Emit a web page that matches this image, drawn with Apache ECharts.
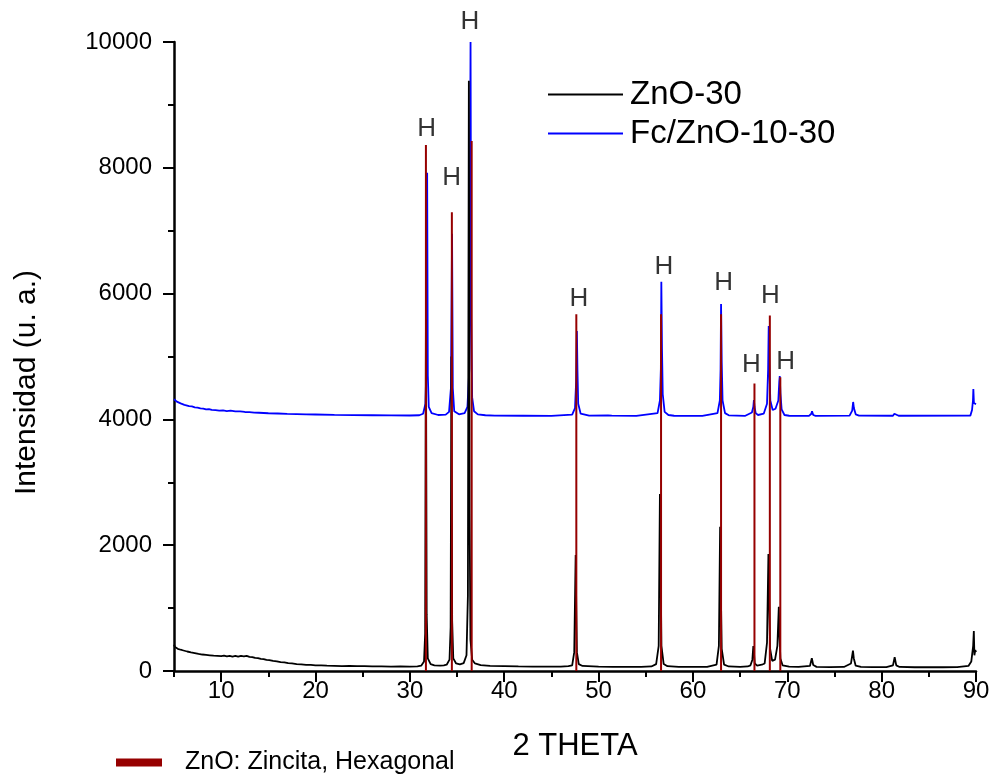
<!DOCTYPE html>
<html>
<head>
<meta charset="utf-8">
<script src="https://cdn.jsdelivr.net/npm/echarts@6/dist/echarts.min.js"></script>
<style>
html,body{margin:0;padding:0;background:#fff;}
#chart{width:993px;height:774px;}
</style>
</head>
<body>
<div id="chart"></div>
<script>
// ---- Data ----
const xTicks = [10, 20, 30, 40, 50, 60, 70, 80, 90];
const yTicks = [0, 2000, 4000, 6000, 8000, 10000];

// ZnO-30 (black) : [2theta, intensity]
const zno30 = [
  [5.0,420],[5.1,380],[5.25,372],[5.4,352],[5.55,356],[5.7,338],[5.85,342],[6.0,326],[6.2,330],[6.4,310],
  [6.6,314],[6.8,296],[7.0,300],[7.2,284],[7.4,288],[7.6,272],[7.8,276],[8.0,262],[8.2,268],[8.4,256],
  [8.6,262],[8.8,250],[9.0,256],[9.2,244],[9.4,250],[9.6,240],[9.8,248],[10.0,236],[10.3,244],[10.6,232],
  [10.9,242],[11.2,230],[11.5,240],[11.8,228],[12.1,240],[12.4,232],[12.7,242],[13.0,226],[13.3,222],[13.6,208],
  [13.9,204],[14.2,192],[14.5,190],[14.8,176],[15.1,174],[15.5,160],[15.9,152],[16.3,140],[16.7,136],[17.1,124],
  [17.5,120],[18.0,110],[18.5,106],[19.0,98],[19.5,96],[20.0,90],[20.6,88],[21.2,84],[22.0,82],[22.8,79],
  [23.6,80],[24.4,76],[25.2,77],[26.0,73],[27.0,74],[28.0,71],[29.0,73],[30.0,71],[30.8,75],
  [31.2,85],[31.5,150],[31.62,600],[31.7,5600],[31.78,900],[31.9,200],[32.2,110],[32.6,90],[33.2,84],[33.6,90],
  [33.9,100],[34.2,180],[34.32,700],[34.4,5000],[34.48,800],[34.6,200],[34.9,120],[35.3,105],
  [35.7,125],[36.0,250],[36.15,1200],[36.25,9385],[36.33,2500],[36.42,500],[36.6,180],[36.9,120],[37.5,92],[38.5,80],
  [40.0,76],[41.5,72],[43.0,71],[44.5,69],[46.0,70],[46.8,78],
  [47.2,90],[47.42,300],[47.57,1844],[47.63,1050],[47.7,300],[47.9,110],[48.3,80],
  [50.0,68],[51.5,67],[53.0,65],[54.5,66],[55.6,72],
  [56.1,110],[56.37,400],[56.5,2814],[56.58,1563],[56.66,400],[56.9,110],[57.3,76],
  [58.5,66],[60.0,64],[61.5,66],
  [62.5,100],[62.75,400],[62.88,2294],[62.96,1240],[63.05,350],[63.3,100],[63.8,72],
  [65.0,66],[65.8,72],
  [66.1,90],[66.3,180],[66.4,397],[66.47,286],[66.55,120],[66.8,85],[67.3,100],
  [67.6,120],[67.85,450],[68.0,1860],[68.08,1100],[68.18,350],[68.4,160],[68.7,180],[68.95,400],[69.1,1022],
  [69.17,572],[69.27,200],[69.5,90],[70.2,68],[71.2,64],
  [72.4,80],[72.6,202],[72.75,95],[73.1,66],[74.5,62],[76.0,64],
  [76.75,120],[76.96,323],[77.05,200],[77.25,85],[77.8,64],[79.0,62],[80.5,61],
  [81.2,90],[81.38,218],[81.55,90],[81.9,64],[83.5,60],[85.0,61],[86.5,60],[88.0,62],[89.2,80],
  [89.5,150],[89.7,400],[89.77,636],[89.83,250],[89.92,334],[90.0,300]
];

// Fc/ZnO-10-30 (blue) : [2theta, intensity]
const fcZno = [
  [5.0,4320],[5.15,4300],[5.3,4282],[5.5,4270],[5.7,4254],[5.9,4246],[6.1,4232],[6.3,4230],[6.6,4212],[6.9,4206],
  [7.2,4192],[7.5,4188],[7.8,4174],[8.1,4172],[8.4,4160],[8.7,4162],[9.0,4150],[9.4,4148],[9.8,4140],[10.2,4142],
  [10.6,4132],[11.0,4138],[11.5,4128],[12.0,4126],[12.5,4118],[13.0,4116],[13.5,4108],[14.0,4106],[15.0,4098],[16.0,4094],
  [17.0,4088],[18.0,4085],[19.0,4080],[20.0,4078],[22.0,4072],[24.0,4068],[26.0,4066],[28.0,4064],[30.0,4062],[31.0,4066],
  [31.4,4090],[31.65,4250],[31.76,4900],[31.83,7922],[31.9,4700],[32.0,4200],[32.3,4100],[33.0,4070],[33.8,4076],
  [34.15,4120],[34.35,4500],[34.47,6950],[34.55,4500],[34.7,4130],[35.2,4080],[35.8,4100],
  [36.1,4200],[36.3,4800],[36.43,10000],[36.5,5600],[36.6,4350],[36.8,4130],[37.2,4080],[38.0,4066],
  [39.0,4060],[42.0,4058],[45.0,4055],[47.2,4075],[47.5,4180],[47.62,4600],[47.7,5405],[47.76,4785],[47.84,4250],[48.1,4090],
  [49.0,4060],[51.0,4062],[51.2,4080],[51.4,4060],[54.0,4055],[56.25,4100],[56.5,4300],[56.6,4800],[56.65,6190],[56.72,5120],
  [56.8,4400],[57.0,4120],[57.4,4070],[58.0,4058],[61.0,4055],[62.6,4100],[62.85,4300],[62.93,4800],[62.98,5835],[63.05,4910],
  [63.14,4300],[63.4,4100],[63.8,4065],[65.5,4055],[66.25,4110],[66.4,4200],[66.46,4308],[66.53,4197],[66.65,4100],[66.9,4070],
  [67.5,4090],[67.85,4250],[67.97,4800],[68.03,5485],[68.1,4880],[68.2,4300],[68.45,4150],[68.75,4170],[69.05,4300],[69.15,4600],
  [69.2,4690],[69.27,4420],[69.4,4160],[69.7,4070],[70.2,4058],[72.3,4055],[72.55,4090],[72.62,4130],[72.75,4070],[73.0,4056],
  [76.6,4060],[76.88,4140],[76.98,4277],[77.06,4180],[77.25,4080],[77.6,4060],[81.2,4058],[81.35,4090],[81.42,4120],[81.55,4070],
  [81.8,4058],[89.4,4060],[89.58,4150],[89.68,4300],[89.72,4483],[89.78,4260],[89.88,4250],[90.0,4240]
];

// ZnO: Zincita, Hexagonal reference sticks
const refPos    = [31.70, 34.45, 36.55, 47.64, 56.62, 62.98, 66.52, 68.15, 69.26];
const refHeight = [8362, 7293, 8426, 5670, 5670, 5670, 4570, 5650, 4670];

// "H" annotation anchors (label centres)
const hX = [31.77, 34.42, 36.36, 47.90, 56.91, 63.26, 66.20, 68.21, 69.83];
const hY = [8612, 7843, 10323, 5909, 6428, 6164, 4865, 5967, 4917];

const seriesNames = ['ZnO-30', 'Fc/ZnO-10-30'];
const refName = 'ZnO: Zincita, Hexagonal';

// ---- Chart ----
const W = 993;
const gridLeft = 174, gridRight = 17, gridTop = 42, gridBottom = 103;
const plotW = W - gridLeft - gridRight;
const xMin = 5, xMax = 90;
const grid2Left = gridLeft + (xTicks[0] - xMin) / (xMax - xMin) * plotW;
const FONT = '"Liberation Sans", Arial, sans-serif';

const chart = echarts.init(document.getElementById('chart'), null, {renderer: 'canvas'});

const refData = refPos.map((p, i) => [p, refHeight[i]]);
const hData = hX.map((x, i) => [x, hY[i]]);

chart.setOption({
  animation: false,
  backgroundColor: '#ffffff',
  textStyle: {fontFamily: FONT, color: '#000'},
  grid: [
    {left: gridLeft, right: gridRight, top: gridTop, bottom: gridBottom, containLabel: false},
    {left: grid2Left, right: gridRight, top: gridTop, bottom: gridBottom, containLabel: false}
  ],
  legend: [
    {
      data: seriesNames,
      orient: 'vertical',
      left: 543, top: 73,
      itemWidth: 75, itemHeight: 2, itemGap: 6,
      icon: 'rect',
      textStyle: {fontSize: 33, fontFamily: FONT, color: '#000',
        rich: {t: {fontSize: 33, fontFamily: FONT, color: '#000', padding: [0, 0, 0, 2]}}},
      formatter: '{t|{name}}'
    },
    {
      data: [refName],
      orient: 'horizontal',
      left: 111, top: 745,
      itemWidth: 46, itemHeight: 8,
      icon: 'rect',
      textStyle: {fontSize: 25, fontFamily: FONT, color: '#000',
        rich: {t: {fontSize: 25, fontFamily: FONT, color: '#000', padding: [0, 0, 0, 18]}}},
      formatter: '{t|{name}}'
    }
  ],
  xAxis: [
    {
      gridIndex: 0, type: 'value', min: xMin, max: xMax, interval: xMax - xMin,
      name: '2 THETA', nameLocation: 'middle', nameGap: 60,
      nameTextStyle: {fontSize: 31, fontFamily: FONT, color: '#000'},
      axisLine: {show: true, onZero: false, lineStyle: {color: '#000', width: 2.5}},
      axisTick: {show: true, inside: false, length: 6, lineStyle: {color: '#000', width: 2}},
      axisLabel: {show: false},
      splitLine: {show: false}
    },
    {
      gridIndex: 1, type: 'value', min: xTicks[0], max: xTicks[xTicks.length - 1], interval: 10,
      axisLine: {show: false, onZero: false},
      axisTick: {show: true, inside: false, length: 11, lineStyle: {color: '#000', width: 2}},
      minorTick: {show: true, splitNumber: 2, length: 6, lineStyle: {color: '#000', width: 2}},
      axisLabel: {show: true, fontSize: 24, fontFamily: FONT, color: '#000', margin: 8,
        formatter: v => (xTicks.indexOf(v) >= 0 ? String(v) : '')},
      splitLine: {show: false}, minorSplitLine: {show: false}
    }
  ],
  yAxis: [
    {
      gridIndex: 0, type: 'value', min: 0, max: 10000, interval: 2000,
      name: 'Intensidad (u. a.)', nameLocation: 'middle', nameGap: 132, nameRotate: 90,
      nameTextStyle: {fontSize: 30, fontFamily: FONT, color: '#000', padding: [0, 52, 0, 0]},
      axisLine: {show: true, onZero: false, lineStyle: {color: '#000', width: 2.5}},
      axisTick: {show: true, inside: false, length: 11, lineStyle: {color: '#000', width: 2}},
      minorTick: {show: true, splitNumber: 2, length: 6, lineStyle: {color: '#000', width: 2}},
      axisLabel: {show: true, fontSize: 24, fontFamily: FONT, color: '#000', margin: 22,
        formatter: v => (yTicks.indexOf(v) >= 0 ? String(v) : '')},
      splitLine: {show: false}, minorSplitLine: {show: false}
    },
    {
      gridIndex: 1, type: 'value', min: 0, max: 10000, show: false,
      splitLine: {show: false}
    }
  ],
  series: [
    {
      name: seriesNames[0], type: 'line', xAxisIndex: 0, yAxisIndex: 0,
      data: zno30, showSymbol: false, symbol: 'none', smooth: false,
      color: '#000000',
      lineStyle: {color: '#000000', width: 1.8}, z: 3
    },
    {
      name: seriesNames[1], type: 'line', xAxisIndex: 0, yAxisIndex: 0,
      data: fcZno, showSymbol: false, symbol: 'none', smooth: false,
      color: '#0000ff',
      lineStyle: {color: '#0000ff', width: 1.8}, z: 2
    },
    {
      name: refName, type: 'bar', xAxisIndex: 0, yAxisIndex: 0,
      data: refData, barWidth: 2, color: '#960000',
      itemStyle: {color: '#960000'}, z: 4
    },
    {
      name: 'H', type: 'scatter', xAxisIndex: 0, yAxisIndex: 0,
      data: hData, symbolSize: 1, clip: false,
      itemStyle: {color: 'rgba(0,0,0,0)'},
      label: {show: true, position: 'inside', formatter: 'H', fontSize: 26,
        fontFamily: FONT, color: '#000', align: 'center', verticalAlign: 'middle'},
      silent: true, z: 5
    }
  ]
});
</script>
</body>
</html>
